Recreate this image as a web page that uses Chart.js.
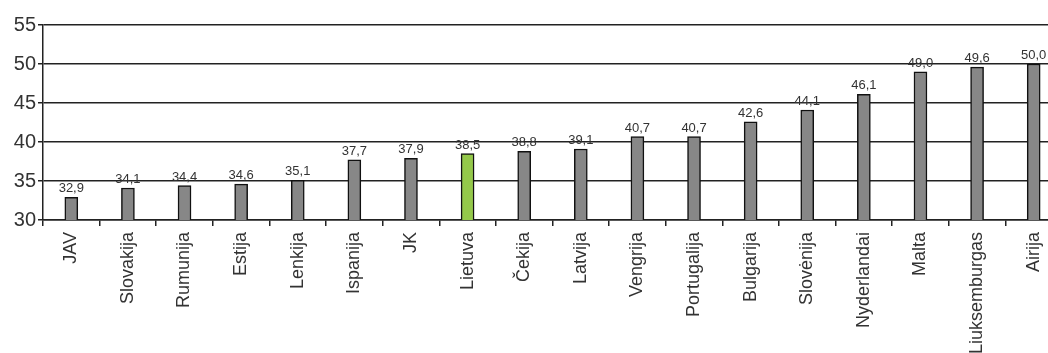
<!DOCTYPE html>
<html>
<head>
<meta charset="utf-8">
<script src="https://cdn.jsdelivr.net/npm/chart.js@4.4.1/dist/chart.umd.min.js"></script>
<style>
    html, body { margin: 0; padding: 0; background: #fff; overflow: hidden; }
    #grafico { display: block; }
</style>
</head>
<body>
<canvas id="grafico" width="1062" height="353"></canvas>
<script>
// Dados do gráfico
const salys = ['JAV', 'Slovakija', 'Rumunija', 'Estija', 'Lenkija', 'Ispanija', 'JK', 'Lietuva', 'Čekija',
    'Latvija', 'Vengrija', 'Portugalija', 'Bulgarija', 'Slovėnija', 'Nyderlandai', 'Malta', 'Liuksemburgas', 'Airija'];
const reiksmes = [32.9, 34.1, 34.4, 34.6, 35.1, 37.7, 37.9, 38.5, 38.8, 39.1, 40.7, 40.7, 42.6, 44.1, 46.1, 49.0, 49.6, 50.0];
const yTicks = [30, 35, 40, 45, 50, 55];
const paryskinta = 'Lietuva';

const cores = salys.map(s => s === paryskinta ? '#94c84a' : '#878787');

// Plugin simples para escrever o valor em cima de cada barra
const valoresBarras = {
    id: 'valoresBarras',
    afterDatasetsDraw(chart) {
        const ctx = chart.ctx;
        const meta = chart.getDatasetMeta(0);
        ctx.save();
        ctx.font = '13px "Liberation Sans", Arial, sans-serif';
        ctx.fillStyle = '#333';
        ctx.textAlign = 'center';
        ctx.textBaseline = 'bottom';
        meta.data.forEach((bar, i) => {
            ctx.fillText(reiksmes[i].toFixed(1).replace('.', ','), bar.x, bar.y - 2);
        });
        ctx.restore();
    }
};

new Chart(document.getElementById('grafico'), {
    type: 'bar',
    data: {
        labels: salys,
        datasets: [{
            data: reiksmes,
            backgroundColor: cores,
            borderColor: '#111',
            borderWidth: 1.5,
            barThickness: 13
        }]
    },
    options: {
        responsive: false,
        animation: false,
        layout: { padding: { top: 25, left: 0, right: 0, bottom: 0 } },
        plugins: {
            legend: { display: false },
            tooltip: { enabled: false }
        },
        scales: {
            x: {
                grid: { drawOnChartArea: false, drawTicks: true, tickLength: 6, color: '#222', lineWidth: 1.5 },
                border: { display: true, color: '#222', width: 1.5 },
                ticks: {
                    minRotation: 90, maxRotation: 90, autoSkip: false, padding: 6,
                    color: '#333',
                    font: { family: '"Liberation Sans", Arial, sans-serif', size: 18 }
                },
                afterFit(scale) { scale.height = 133; }
            },
            y: {
                min: 30, max: 55,
                afterBuildTicks(scale) { scale.ticks = yTicks.map(v => ({ value: v })); },
                grid: { color: '#222', lineWidth: 1.5, tickLength: 5 },
                border: { display: true, color: '#222', width: 1.5 },
                ticks: {
                    padding: 2, color: '#333',
                    font: { family: '"Liberation Sans", Arial, sans-serif', size: 20 }
                },
                afterFit(scale) { scale.width = 43; }
            }
        }
    },
    plugins: [valoresBarras]
});
</script>
</body>
</html>
